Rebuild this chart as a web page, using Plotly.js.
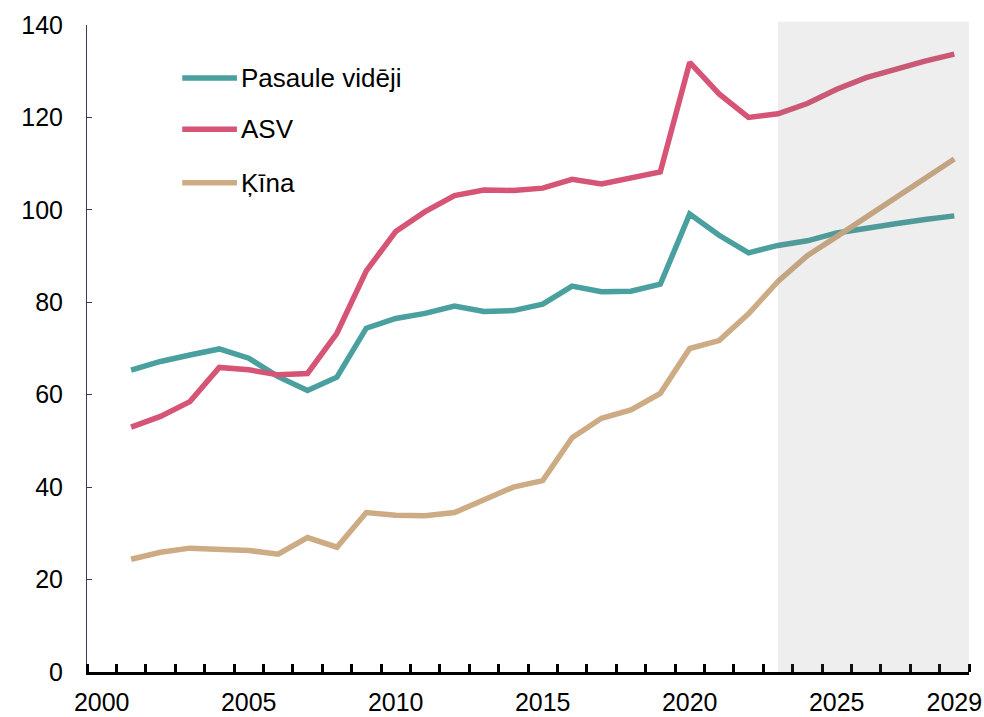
<!DOCTYPE html>
<html>
<head>
<meta charset="utf-8">
<script src="https://cdn.plot.ly/plotly-3.0.1.min.js"></script>
<style>html,body{margin:0;padding:0;background:#fff;}#chart{width:984px;height:717px;}</style>
</head>
<body>
<div id="chart"></div>
<script>
const years = [2001,2002,2003,2004,2005,2006,2007,2008,2009,2010,2011,2012,2013,2014,2015,2016,2017,2018,2019,2020,2021,2022,2023,2024,2025,2026,2027,2028,2029];
const world = [65.3,67.2,68.6,69.9,67.9,63.9,60.9,63.8,74.4,76.5,77.6,79.2,78.0,78.2,79.6,83.5,82.3,82.4,83.9,99.1,94.5,90.7,92.3,93.3,95.0,96.1,97.0,97.9,98.7];
const usa = [53.0,55.3,58.5,65.9,65.4,64.3,64.6,73.3,86.8,95.3,99.6,103.1,104.3,104.2,104.7,106.6,105.6,106.9,108.2,131.9,125.1,120.0,120.8,123.0,126.1,128.6,130.5,132.2,133.7];
const china = [24.4,25.9,26.8,26.4,26.3,25.5,29.1,27.0,34.5,33.9,33.8,34.5,37.1,40.0,41.4,50.7,54.9,56.7,60.3,70.0,71.7,77.5,84.5,90.1,94.2,98.4,102.6,106.9,111.0];
const seriesNames = ["Pasaule vidēji","ASV","Ķīna"];
const seriesColors = ["#4aa09e","#d65475","#cdab84"];
const tickLabelsVals = [2000,2005,2010,2015,2020,2025,2029];
const forecastStart = 2023.0;

const font = "Liberation Sans, Arial, sans-serif";
const data = [world, usa, china].map((ys, i) => ({
  type: "scatter", mode: "lines", x: years, y: ys, name: seriesNames[i],
  line: {color: seriesColors[i], width: 5.5}, showlegend: false, hoverinfo: "skip"
}));

const legendY = [0.918, 0.839, 0.756];
const shapes = [
  {type: "rect", xref: "x", yref: "paper", x0: forecastStart, x1: 2029.6, y0: 0, y1: 1.005,
   fillcolor: "rgba(120,120,120,0.13)", line: {width: 0}, layer: "above"}
];
const annotations = [];
seriesNames.forEach((n, i) => {
  shapes.push({type: "line", xref: "paper", yref: "paper", x0: 0.108, x1: 0.170, y0: legendY[i], y1: legendY[i],
    line: {color: seriesColors[i], width: 5.5}});
  annotations.push({xref: "paper", yref: "paper", x: 0.172, y: legendY[i], xanchor: "left", yanchor: "middle",
    text: n, showarrow: false, font: {family: font, size: 26, color: "#000"}});
});

const layout = {
  width: 984, height: 717,
  margin: {l: 87, r: 15, t: 25, b: 45},
  paper_bgcolor: "#fff", plot_bgcolor: "#fff",
  font: {family: font, size: 25, color: "#000"},
  xaxis: {
    range: [1999.5, 2029.5], tickmode: "array", tickvals: tickLabelsVals,
    ticktext: tickLabelsVals.map(String), ticks: "", showgrid: false, zeroline: false,
    showline: true, linecolor: "#000", linewidth: 3, ticklabelstandoff: 6,
    tickfont: {family: font, size: 25, color: "#000"},
    minor: {tickmode: "linear", tick0: 1999.5, dtick: 1, ticks: "inside", ticklen: 8, tickwidth: 3, tickcolor: "#000", showgrid: false}
  },
  yaxis: {
    range: [0, 140], tickmode: "linear", tick0: 0, dtick: 20, ticks: "inside", ticklen: 5,
    tickcolor: "#3a3a5a", tickwidth: 1, showline: true, linecolor: "#3a3a5a", linewidth: 1,
    showgrid: false, zeroline: false, ticklabelstandoff: 18,
    tickfont: {family: font, size: 25, color: "#000"}
  },
  shapes: shapes, annotations: annotations, showlegend: false
};
Plotly.newPlot("chart", data, layout, {displayModeBar: false, staticPlot: true});
</script>
</body>
</html>
